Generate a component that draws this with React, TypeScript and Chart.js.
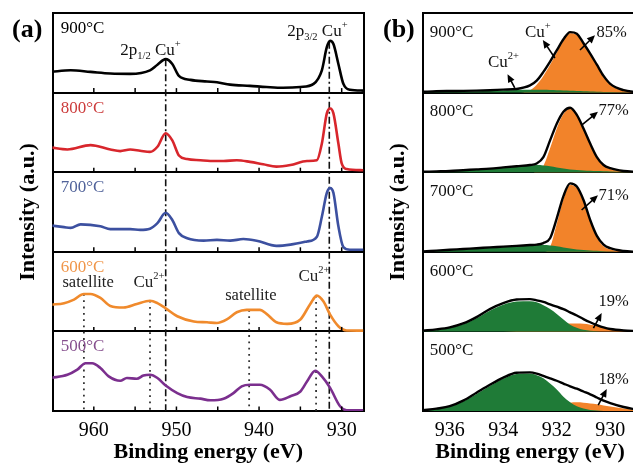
import React, { useEffect, useRef } from 'react';
import { Chart, registerables } from 'chart.js';

Chart.register(...registerables);

const SERIF = '"Liberation Serif", "Times New Roman", Times, serif';

// ---------------- Panel (a): Cu 2p spectra, one band per temperature ----------------
// binding energy (eV) and intensity within its band (0 = band bottom, 1 = band top)
const E900 = [965.2, 962.8, 960.4, 958.0, 955.6, 953.2, 952.3, 951.3, 950.5, 949.7, 948.3, 946.3, 945.1, 943.5, 941.1, 939.1, 937.1, 935.0, 933.4, 932.4, 931.8, 931.4, 931.0, 930.4, 929.8, 929.0, 927.4];
const V900 = [0.26, 0.28, 0.26, 0.24, 0.235, 0.28, 0.35, 0.42, 0.36, 0.21, 0.16, 0.14, 0.13, 0.10, 0.085, 0.07, 0.06, 0.07, 0.11, 0.28, 0.57, 0.65, 0.61, 0.36, 0.11, 0.035, 0.025];

const E800 = [965.2, 963.2, 960.4, 958.0, 956.8, 955.6, 954.4, 953.2, 952.3, 951.3, 950.5, 949.7, 948.7, 947.1, 945.9, 944.3, 942.7, 941.1, 939.5, 937.9, 936.2, 934.2, 933.0, 932.4, 931.8, 931.4, 931.0, 930.4, 930.0, 929.4, 927.4];
const V800 = [0.31, 0.285, 0.34, 0.285, 0.265, 0.285, 0.27, 0.255, 0.32, 0.49, 0.40, 0.21, 0.165, 0.15, 0.14, 0.14, 0.15, 0.13, 0.10, 0.07, 0.09, 0.14, 0.15, 0.36, 0.74, 0.80, 0.74, 0.36, 0.11, 0.04, 0.025];

const E700 = [965.2, 963.6, 962.8, 961.6, 959.2, 958.0, 955.6, 954.4, 953.2, 952.3, 951.3, 950.5, 949.7, 948.7, 946.7, 945.1, 943.5, 941.9, 940.3, 937.9, 936.2, 934.2, 933.0, 932.4, 931.8, 931.4, 931.0, 930.4, 929.8, 929.0, 927.4];
const V700 = [0.33, 0.31, 0.30, 0.345, 0.32, 0.285, 0.285, 0.275, 0.29, 0.36, 0.49, 0.40, 0.235, 0.17, 0.14, 0.15, 0.14, 0.16, 0.14, 0.075, 0.09, 0.13, 0.19, 0.44, 0.74, 0.80, 0.74, 0.32, 0.06, 0.025, 0.025];

const E600 = [965.2, 963.6, 962.4, 961.2, 960.4, 959.2, 958.0, 956.4, 954.8, 953.2, 952.3, 951.3, 949.9, 947.9, 946.3, 945.1, 943.9, 942.7, 941.5, 939.9, 939.1, 937.9, 936.6, 935.0, 933.8, 933.0, 932.2, 931.4, 930.4, 929.4, 927.4];
const V600 = [0.335, 0.355, 0.40, 0.47, 0.47, 0.42, 0.32, 0.30, 0.345, 0.385, 0.355, 0.29, 0.19, 0.125, 0.115, 0.105, 0.15, 0.24, 0.27, 0.27, 0.22, 0.115, 0.095, 0.15, 0.345, 0.45, 0.375, 0.21, 0.065, 0.012, 0.01];

const E500 = [965.2, 963.2, 962.0, 961.0, 960.2, 959.2, 958.2, 956.8, 956.0, 954.8, 954.0, 953.2, 952.3, 951.3, 949.9, 948.7, 947.1, 945.9, 944.3, 943.1, 942.1, 941.1, 939.9, 938.7, 937.5, 936.2, 935.0, 934.2, 933.2, 932.4, 931.4, 930.2, 929.4, 927.4];
const V500 = [0.415, 0.455, 0.52, 0.60, 0.60, 0.54, 0.435, 0.38, 0.415, 0.405, 0.445, 0.455, 0.415, 0.32, 0.225, 0.175, 0.155, 0.135, 0.155, 0.225, 0.31, 0.33, 0.33, 0.27, 0.14, 0.185, 0.245, 0.37, 0.505, 0.435, 0.29, 0.06, 0.01, 0.01];

const TEMPS = ['500°C', '600°C', '700°C', '800°C', '900°C']; // bottom band to top band
const A_LINE_COLORS = ['#7b2f8e', '#f08a2c', '#3c50a0', '#d8262c', '#000000'];
const A_LABEL_COLORS = ['#86508e', '#f0964a', '#51639a', '#cc3c3c', '#000000'];

// reference lines (energy, top of line in band units)
const DASHDOT_E = [951.3, 931.5];
const DASHDOT_TOP = [4.42, 4.64];
const DOTTED_E = [961.2, 953.2, 941.2, 933.1];
const DOTTED_TOP = [1.47, 1.385, 1.27, 1.45];

const A_X_MIN = 927.3;
const A_X_MAX = 965;
const A_TICKS = [960, 950, 940, 930];

// ---------------- Panel (b): Cu 2p3/2 fits ----------------
const B_E = [937, 936.5, 936, 935.5, 935, 934.5, 934, 933.5, 933, 932.75, 932.5, 932.25, 932, 931.75, 931.5, 931.25, 931, 930.75, 930.5, 930.25, 930, 929.5, 929];

const ENV900 = [0.01, 0.017, 0.02, 0.022, 0.025, 0.03, 0.038, 0.046, 0.09, 0.15, 0.26, 0.39, 0.53, 0.67, 0.76, 0.74, 0.62, 0.49, 0.35, 0.21, 0.11, 0.03, 0.005];
const CUP900 = [0, 0, 0, 0, 0, 0, 0, 0, 0.03, 0.1, 0.21, 0.35, 0.5, 0.65, 0.745, 0.725, 0.61, 0.48, 0.34, 0.2, 0.1, 0.025, 0.005];
const CU2900 = [0.005, 0.01, 0.012, 0.015, 0.018, 0.022, 0.027, 0.032, 0.035, 0.036, 0.035, 0.033, 0.03, 0.027, 0.024, 0.021, 0.018, 0.015, 0.012, 0.009, 0.007, 0.003, 0];

const ENV800 = [0.005, 0.01, 0.015, 0.025, 0.035, 0.045, 0.06, 0.075, 0.09, 0.11, 0.19, 0.4, 0.61, 0.76, 0.81, 0.72, 0.55, 0.36, 0.19, 0.09, 0.05, 0.015, 0.005];
const CUP800 = [0, 0, 0, 0, 0, 0, 0, 0, 0, 0.01, 0.08, 0.3, 0.55, 0.73, 0.8, 0.71, 0.54, 0.35, 0.18, 0.08, 0.04, 0.01, 0];
const CU2800 = [0.003, 0.008, 0.013, 0.022, 0.032, 0.042, 0.055, 0.07, 0.085, 0.09, 0.085, 0.075, 0.06, 0.045, 0.035, 0.028, 0.022, 0.018, 0.015, 0.012, 0.01, 0.005, 0];

const ENV700 = [0.005, 0.015, 0.025, 0.035, 0.045, 0.055, 0.065, 0.075, 0.085, 0.09, 0.11, 0.17, 0.42, 0.7, 0.86, 0.82, 0.65, 0.4, 0.2, 0.09, 0.045, 0.01, 0];
const CUP700 = [0, 0, 0, 0, 0, 0, 0, 0, 0, 0, 0, 0.06, 0.35, 0.66, 0.84, 0.8, 0.63, 0.38, 0.18, 0.07, 0.03, 0.005, 0];
const CU2700 = [0.004, 0.012, 0.02, 0.03, 0.04, 0.05, 0.06, 0.07, 0.08, 0.085, 0.085, 0.08, 0.07, 0.055, 0.04, 0.03, 0.022, 0.016, 0.012, 0.008, 0.005, 0.002, 0];

const ENV600 = [0.01, 0.025, 0.05, 0.1, 0.18, 0.28, 0.355, 0.4, 0.405, 0.39, 0.37, 0.34, 0.31, 0.28, 0.24, 0.2, 0.155, 0.115, 0.08, 0.05, 0.03, 0.012, 0.005];
const CUP600 = [0, 0, 0, 0, 0, 0, 0, 0.005, 0.02, 0.03, 0.045, 0.06, 0.075, 0.09, 0.1, 0.1, 0.095, 0.085, 0.07, 0.05, 0.03, 0.012, 0.005];
const CU2600 = [0.008, 0.022, 0.045, 0.09, 0.165, 0.26, 0.335, 0.375, 0.38, 0.365, 0.33, 0.28, 0.22, 0.15, 0.085, 0.045, 0.02, 0.008, 0.003, 0, 0, 0, 0];

const ENV500 = [0.01, 0.03, 0.06, 0.13, 0.23, 0.33, 0.42, 0.48, 0.485, 0.47, 0.44, 0.41, 0.38, 0.345, 0.31, 0.28, 0.245, 0.21, 0.17, 0.13, 0.1, 0.05, 0.015];
const CUP500 = [0, 0, 0, 0, 0, 0, 0, 0.005, 0.02, 0.03, 0.045, 0.06, 0.075, 0.09, 0.105, 0.11, 0.105, 0.095, 0.085, 0.07, 0.055, 0.03, 0.01];
const CU2500 = [0.008, 0.025, 0.055, 0.12, 0.215, 0.315, 0.405, 0.465, 0.47, 0.45, 0.41, 0.345, 0.27, 0.18, 0.11, 0.06, 0.03, 0.012, 0.005, 0, 0, 0, 0];

const CU_PLUS_PCT = ['18%', '19%', '71%', '77%', '85%']; // bottom to top
const B_X_MIN = 929;
const B_X_MAX = 937;
const B_TICKS = [936, 934, 932, 930];
const ORANGE = '#f2832a';
const GREEN = '#1f7b37';

// ---------- annotations (data coordinates) ----------
type Label = { x: number; y: number; text: string; color: string; size: number };
type Arrow = { x1: number; y1: number; x2: number; y2: number };

const A_LABELS: Label[] = [
  ...TEMPS.map((t, k) => ({ x: 964.0, y: k + 0.75, text: t, color: A_LABEL_COLORS[k], size: 17 })),
  { x: 956.8, y: 4.47, text: '2p_{1/2} Cu^{+}', color: '#111', size: 17 },
  { x: 936.6, y: 4.71, text: '2p_{3/2} Cu^{+}', color: '#111', size: 17 },
  { x: 963.8, y: 1.555, text: 'satellite', color: '#222', size: 16.5 },
  { x: 955.2, y: 1.555, text: 'Cu^{2+}', color: '#222', size: 17 },
  { x: 944.1, y: 1.394, text: 'satellite', color: '#222', size: 16.5 },
  { x: 935.24, y: 1.637, text: 'Cu^{2+}', color: '#222', size: 17 },
];

const PCT_X = [930.44, 930.44, 930.44, 930.44, 930.51];
const PCT_Y = [0.34, 1.32, 2.65, 3.72, 4.70];
const B_LABELS: Label[] = [
  ...TEMPS.map((t, k) => ({ x: 936.75, y: k + 0.7, text: t, color: '#111', size: 17 })),
  ...CU_PLUS_PCT.map((p, k) => ({ x: PCT_X[k], y: PCT_Y[k], text: p, color: '#111', size: 16.5 })),
  { x: 933.19, y: 4.70, text: 'Cu^{+}', color: '#111', size: 17 },
  { x: 934.57, y: 4.325, text: 'Cu^{2+}', color: '#111', size: 17 },
];
const B_ARROWS: Arrow[] = [
  { x1: 932.07, y1: 4.435, x2: 932.52, y2: 4.66 },
  { x1: 933.57, y1: 4.06, x2: 933.84, y2: 4.23 },
  { x1: 931.13, y1: 4.535, x2: 930.57, y2: 4.72 },
  { x1: 931.07, y1: 3.59, x2: 930.46, y2: 3.76 },
  { x1: 931.07, y1: 2.525, x2: 930.46, y2: 2.71 },
  { x1: 930.63, y1: 1.04, x2: 930.32, y2: 1.23 },
  { x1: 930.45, y1: 0.075, x2: 930.13, y2: 0.276 },
];

// ---------- drawing helpers ----------
function drawRich(ctx: CanvasRenderingContext2D, text: string, x: number, y: number, size: number, color: string) {
  const parts = text.split(/(\^\{[^}]*\}|_\{[^}]*\})/).filter(Boolean);
  let cx = x;
  ctx.fillStyle = color;
  ctx.textBaseline = 'alphabetic';
  ctx.textAlign = 'left';
  for (const p of parts) {
    let s = size;
    let dy = 0;
    let t = p;
    if (p.startsWith('^{')) { s = size * 0.62; dy = -size * 0.48; t = p.slice(2, -1); }
    else if (p.startsWith('_{')) { s = size * 0.62; dy = size * 0.22; t = p.slice(2, -1); }
    ctx.font = `${s}px ${SERIF}`;
    ctx.fillText(t, cx, y + dy);
    cx += ctx.measureText(t).width;
  }
}

function drawArrow(ctx: CanvasRenderingContext2D, x1: number, y1: number, x2: number, y2: number) {
  const a = Math.atan2(y2 - y1, x2 - x1);
  const L = 8, W = 3.6;
  const c = Math.cos(a), s = Math.sin(a);
  ctx.beginPath();
  ctx.moveTo(x1, y1);
  ctx.lineTo(x2 - c * L * 0.8, y2 - s * L * 0.8);
  ctx.stroke();
  const bx = x2 - c * L, by = y2 - s * L;
  ctx.beginPath();
  ctx.moveTo(x2, y2);
  ctx.lineTo(bx - s * W, by + c * W);
  ctx.lineTo(bx + s * W, by - c * W);
  ctx.closePath();
  ctx.fill();
}

const decorPlugin = {
  id: 'decor',
  afterDraw(chart: any, _args: any, opts: any) {
    const { ctx, chartArea } = chart;
    const xs = chart.scales.x;
    const ys = chart.scales.y;
    ctx.save();
    if (opts.innerTicks) {
      ctx.strokeStyle = '#000';
      ctx.lineWidth = 1.5;
      for (let k = 0; k < 5; k++) {
        const py = ys.getPixelForValue(k);
        xs.ticks.forEach((t: any) => {
          const px = xs.getPixelForValue(t.value);
          if (px <= chartArea.left + 2 || px >= chartArea.right - 2) return;
          ctx.beginPath();
          ctx.moveTo(px, py);
          ctx.lineTo(px, py - 4.5);
          ctx.stroke();
        });
      }
    }
    (opts.labels || []).forEach((l: Label) => {
      drawRich(ctx, l.text, xs.getPixelForValue(l.x), ys.getPixelForValue(l.y), l.size, l.color);
    });
    ctx.strokeStyle = '#000';
    ctx.fillStyle = '#000';
    ctx.lineWidth = 1.6;
    (opts.arrows || []).forEach((a: Arrow) => {
      drawArrow(ctx, xs.getPixelForValue(a.x1), ys.getPixelForValue(a.y1), xs.getPixelForValue(a.x2), ys.getPixelForValue(a.y2));
    });
    // y-axis title
    ctx.save();
    ctx.translate(chartArea.left - opts.yTitleOffset, (chartArea.top + chartArea.bottom) / 2);
    ctx.rotate(-Math.PI / 2);
    ctx.fillStyle = '#000';
    ctx.font = `bold 22px ${SERIF}`;
    ctx.textAlign = 'center';
    ctx.textBaseline = 'middle';
    ctx.fillText('Intensity (a.u.)', 0, 0);
    ctx.restore();
    // panel letter
    ctx.fillStyle = '#000';
    ctx.font = `bold 26px ${SERIF}`;
    ctx.textAlign = 'left';
    ctx.textBaseline = 'alphabetic';
    ctx.fillText(opts.letter, chartArea.left - opts.letterOffset, chartArea.top + 24);
    ctx.restore();
  },
};

function baseOptions(xMin: number, xMax: number, step: number, shown: number[], padLeft: number, padRight: number, decor: any) {
  return {
    responsive: false,
    animation: false as const,
    events: [],
    layout: { padding: { left: padLeft, right: padRight, top: 13, bottom: 0 } },
    plugins: { legend: { display: false }, tooltip: { enabled: false }, decor },
    elements: { point: { radius: 0 } },
    scales: {
      x: {
        type: 'linear' as const,
        reverse: true,
        min: xMin,
        max: xMax,
        ticks: {
          stepSize: step,
          includeBounds: false,
          autoSkip: false,
          maxRotation: 0,
          color: '#000',
          padding: 8,
          font: { family: SERIF, size: 20 },
          callback: (v: any) => (shown.some((s) => Math.abs(s - Number(v)) < 1e-6) ? String(Math.round(Number(v))) : ''),
        },
        grid: { display: false, drawTicks: false },
        border: { display: true, color: '#000', width: 2 },
        title: {
          display: true,
          text: 'Binding energy (eV)',
          color: '#000',
          font: { family: SERIF, size: 22, weight: 'bold' as const },
          padding: { top: 0, bottom: 1 },
        },
        afterFit: (s: any) => { s.height = 56; },
      },
      y: {
        min: 0,
        max: 5,
        ticks: { display: false, stepSize: 1 },
        grid: { color: '#000', lineWidth: 2, drawTicks: false },
        border: { display: true, color: '#000', width: 2 },
        afterFit: (s: any) => { s.width = 0; },
      },
      y2: {
        position: 'right' as const,
        min: 0,
        max: 5,
        ticks: { display: false },
        grid: { display: false, drawTicks: false },
        border: { display: true, color: '#000', width: 2 },
        afterFit: (s: any) => { s.width = 0; },
      },
    },
  };
}

function pts(energy: number[], values: number[], k: number) {
  return energy.map((e, i) => ({ x: e, y: k + values[i] }));
}

export default function App() {
  const aRef = useRef<HTMLCanvasElement>(null);
  const bRef = useRef<HTMLCanvasElement>(null);

  useEffect(() => {
    const A_E = [E500, E600, E700, E800, E900];
    const A_V = [V500, V600, V700, V800, V900];
    const aSets: any[] = A_E.map((e, k) => ({
      data: pts(e, A_V[k], k),
      borderColor: A_LINE_COLORS[k],
      borderWidth: 2.6,
      cubicInterpolationMode: 'monotone',
      fill: false,
      order: 0,
    }));
    DASHDOT_E.forEach((e, i) => aSets.push({
      data: [{ x: e, y: DASHDOT_TOP[i] }, { x: e, y: 0 }],
      borderColor: '#111',
      borderWidth: 1.6,
      borderDash: [7, 3, 2, 3],
      tension: 0,
      fill: false,
      order: 1,
    }));
    DOTTED_E.forEach((e, i) => aSets.push({
      data: [{ x: e, y: DOTTED_TOP[i] }, { x: e, y: 0 }],
      borderColor: '#333',
      borderWidth: 1.8,
      borderDash: [1.8, 4.5],
      tension: 0,
      fill: false,
      order: 1,
    }));

    const chartA = new Chart(aRef.current as HTMLCanvasElement, {
      type: 'line',
      data: { datasets: aSets },
      options: baseOptions(A_X_MIN, A_X_MAX, 5, A_TICKS, 52.5, 11, {
        innerTicks: true,
        labels: A_LABELS,
        arrows: [],
        yTitleOffset: 24.5,
        letter: '(a)',
        letterOffset: 40.5,
      }) as any,
      plugins: [decorPlugin],
    });

    const ENV = [ENV500, ENV600, ENV700, ENV800, ENV900];
    const CUP = [CUP500, CUP600, CUP700, CUP800, CUP900];
    const CU2 = [CU2500, CU2600, CU2700, CU2800, CU2900];
    const bSets: any[] = [];
    for (let k = 0; k < 5; k++) {
      bSets.push({
        data: pts(B_E, ENV[k], k),
        borderColor: '#000',
        borderWidth: 2.4,
        cubicInterpolationMode: 'monotone',
        fill: false,
        order: 0,
      });
      bSets.push({
        data: pts(B_E, CU2[k], k),
        borderColor: 'rgba(0,0,0,0)',
        borderWidth: 0,
        backgroundColor: GREEN,
        cubicInterpolationMode: 'monotone',
        fill: { value: k },
        order: 1,
      });
      bSets.push({
        data: pts(B_E, CUP[k], k),
        borderColor: 'rgba(0,0,0,0)',
        borderWidth: 0,
        backgroundColor: ORANGE,
        cubicInterpolationMode: 'monotone',
        fill: { value: k },
        order: 2,
      });
    }
    const chartB = new Chart(bRef.current as HTMLCanvasElement, {
      type: 'line',
      data: { datasets: bSets },
      options: baseOptions(B_X_MIN, B_X_MAX, 1, B_TICKS, 43, 13, {
        innerTicks: false,
        labels: B_LABELS,
        arrows: B_ARROWS,
        yTitleOffset: 25,
        letter: '(b)',
        letterOffset: 40,
      }) as any,
      plugins: [decorPlugin],
    });

    return () => {
      chartA.destroy();
      chartB.destroy();
    };
  }, []);

  return (
    <div style={{ position: 'fixed', left: 0, top: 0, width: 633, height: 467, overflow: 'hidden', background: '#fff' }}>
      <canvas ref={aRef} width={375} height={467} style={{ position: 'absolute', left: 0, top: 0 }} />
      <canvas ref={bRef} width={270} height={467} style={{ position: 'absolute', left: 380, top: 0 }} />
    </div>
  );
}
